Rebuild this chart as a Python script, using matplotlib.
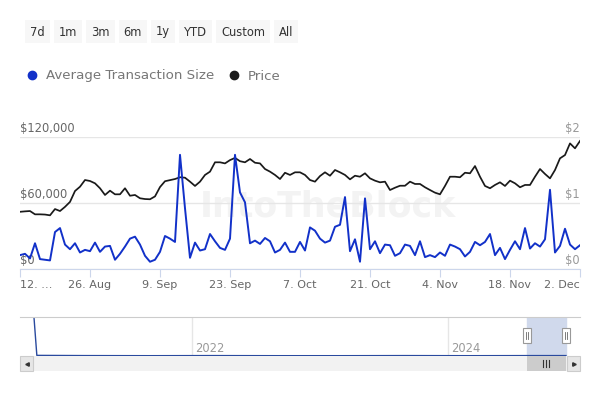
import numpy as np
import matplotlib
matplotlib.use('Agg')
import matplotlib.pyplot as plt
import matplotlib.dates as mdates
import matplotlib.transforms as mtransforms
from matplotlib.patches import Rectangle
from matplotlib.lines import Line2D

######################################################
####################### DATA #########################
######################################################

# one point per day, 12 Aug -> 2 Dec 2024
dates = np.arange(np.datetime64('2024-08-12'), np.datetime64('2024-12-03'))

# price, thousands of $
price_k = [52.0, 52.4, 52.7, 49.7, 49.7, 49.5, 48.8, 54.5, 52.7, 56.5,
           61.0, 70.9, 74.8, 80.9, 80.0, 77.9, 73.4, 67.3, 71.2, 67.9,
           67.9, 73.4, 66.6, 67.3, 64.3, 63.6, 63.4, 66.0, 74.5, 79.8,
           80.8, 81.8, 83.4, 83.0, 79.4, 75.5, 79.4, 85.5, 88.5, 97.0,
           97.0, 96.0, 99.0, 101.0, 98.0, 97.0, 100.0, 96.6, 96.0, 90.9,
           88.5, 85.5, 81.8, 87.5, 85.5, 87.9, 87.9, 85.5, 80.9, 79.4,
           84.5, 87.9, 84.8, 90.0, 87.9, 85.5, 81.5, 84.8, 83.9, 87.0,
           82.4, 80.3, 78.8, 79.4, 71.8, 73.9, 75.7, 75.7, 79.4, 77.3,
           77.3, 74.3, 71.8, 69.4, 67.9, 75.5, 83.9, 83.9, 83.4, 87.5,
           87.0, 93.6, 83.9, 75.5, 73.4, 76.4, 78.8, 75.5, 80.3, 77.9,
           74.3, 76.4, 76.4, 83.9, 90.9, 86.4, 82.4, 90.0, 100.6, 103.6,
           114.2, 109.7, 116.4]

# average transaction size, $
avg_tx_size = [0.21, 0.23, 0.16, 0.39, 0.15, 0.14, 0.13, 0.56, 0.62, 0.37,
               0.30, 0.39, 0.25, 0.29, 0.27, 0.40, 0.26, 0.34, 0.35, 0.14,
               0.23, 0.34, 0.46, 0.49, 0.37, 0.20, 0.11, 0.14, 0.26, 0.50,
               0.46, 0.41, 1.73, 0.92, 0.17, 0.40, 0.28, 0.30, 0.53, 0.42,
               0.32, 0.29, 0.46, 1.73, 1.16, 1.01, 0.39, 0.43, 0.38, 0.47,
               0.42, 0.25, 0.29, 0.40, 0.26, 0.26, 0.41, 0.28, 0.63, 0.58,
               0.46, 0.40, 0.43, 0.64, 0.67, 1.09, 0.27, 0.45, 0.11, 1.07,
               0.30, 0.42, 0.24, 0.37, 0.36, 0.20, 0.24, 0.37, 0.35, 0.21,
               0.42, 0.18, 0.21, 0.18, 0.25, 0.20, 0.37, 0.34, 0.30, 0.19,
               0.26, 0.41, 0.36, 0.41, 0.53, 0.21, 0.32, 0.15, 0.29, 0.42,
               0.30, 0.62, 0.31, 0.39, 0.34, 0.45, 1.20, 0.25, 0.35, 0.61,
               0.37, 0.30, 0.36]

price = np.array(price_k) * 1000

xtick_dates = np.arange(np.datetime64('2024-08-12'), np.datetime64('2024-12-03'), 14)
xtick_labels = ['12. \u2026', '26. Aug', '9. Sep', '23. Sep', '7. Oct', '21. Oct',
                '4. Nov', '18. Nov', '2. Dec']
left_ticks = [0, 60000, 120000]
left_labels = ['$0', '$60,000', '$120,000']
right_ticks = [0, 1, 2]
right_labels = ['$0', '$1', '$2']

buttons = ['7d', '1m', '3m', '6m', '1y', 'YTD', 'Custom', 'All']
series_names = ['Average Transaction Size', 'Price']
series_colors = ['#1231c9', '#1a1a1a']

# navigator (full history, mostly flat after the first spike)
nav_dates = np.array(['2020-10-08', '2020-10-16', '2021-03-01', '2021-09-01', '2022-03-01',
                      '2022-09-01', '2023-03-01', '2023-09-01', '2024-03-01', '2024-09-01',
                      '2024-12-02'], dtype='datetime64[D]')
nav_values = [36, 0.6, 0.4, 0.3, 0.4, 0.3, 0.3, 0.4, 0.3, 0.4, 0.4]
nav_years = ['2022', '2024']

######################################################
###################### PLOT ##########################
######################################################

W, H = 600, 400
fig = plt.figure(figsize=(6, 4), dpi=100)

# pixel overlay for the buttons / scrollbar / handles (on top of everything)
ui = fig.add_axes([0, 0, 1, 1])
ui.set_xlim(0, W)
ui.set_ylim(H, 0)
ui.axis('off')
ui.set_zorder(10)

# range selector buttons
renderer = fig.canvas.get_renderer()
x = 25
for b in buttons:
    t = ui.text(0, 32, b, fontsize=8.3, color='#333333', va='center', ha='center')
    tw = t.get_window_extent(renderer=renderer).width
    bw = tw + 10
    t.set_x(x + bw / 2)
    ui.add_patch(Rectangle((x, 20), bw, 23, facecolor='#f7f7f7', edgecolor='none'))
    x += bw + 4

# legend
handles = [Line2D([], [], marker='o', ls='', color=c, markersize=6) for c in series_colors]
fig.legend(handles, series_names, loc='center left', bbox_to_anchor=(25 / W, 1 - 76 / H),
           ncol=2, frameon=False, fontsize=9.6, labelcolor='#777777', handlelength=1.0,
           handletextpad=0.55, columnspacing=1.0, borderpad=0, borderaxespad=0)

# main chart
ax = fig.add_axes([20 / W, 1 - 269 / H, 560 / W, 132 / H])
ax.plot(dates, price, color=series_colors[1], lw=1.25, zorder=3)
ax.set_ylim(0, 120000)
ax.set_xlim(dates[0], dates[-1])
ax.set_yticks(left_ticks)
ax.set_yticklabels([])
ax.tick_params(axis='y', length=0)
ax.yaxis.grid(True, color='#e6e6e6', lw=1)
ax.set_axisbelow(True)
for s in ['top', 'left', 'right']:
    ax.spines[s].set_visible(False)
ax.spines['bottom'].set_color('#ccd6eb')
ax.set_xticks(xtick_dates)
ax.set_xticklabels(xtick_labels)
ax.tick_params(axis='x', length=6, color='#ccd6eb', labelcolor='#666666', labelsize=8, pad=2)
xl = ax.get_xticklabels()
xl[0].set_ha('left')
xl[-1].set_ha('right')

ltrans = mtransforms.offset_copy(mtransforms.blended_transform_factory(ax.transAxes, ax.transData),
                                 fig=fig, y=2, units='dots')
for v, lab in zip(left_ticks, left_labels):
    ax.text(0, v, lab, transform=ltrans, ha='left', va='bottom', fontsize=8.3, color='#666666')

# faint watermark
ax.text(0.55, 0.47, 'IntoTheBlock', transform=ax.transAxes, ha='center', va='center',
        fontsize=25, fontweight='bold', color='#f3f3f3', zorder=0)

ax2 = ax.twinx()
ax2.plot(dates, avg_tx_size, color=series_colors[0], lw=1.4)
ax2.set_ylim(0, 2)
ax2.set_yticks([])
for s in ax2.spines.values():
    s.set_visible(False)
rtrans = mtransforms.offset_copy(mtransforms.blended_transform_factory(ax2.transAxes, ax2.transData),
                                 fig=fig, y=2, units='dots')
for v, lab in zip(right_ticks, right_labels):
    ax2.text(1, v, lab, transform=rtrans, ha='right', va='bottom', fontsize=8.3, color='#999999')

# navigator
nav = fig.add_axes([20 / W, 1 - 356 / H, 560 / W, 39 / H])
nav.plot(nav_dates, nav_values, color='#2a4a9e', lw=1)
nav.set_xlim(np.datetime64('2020-08-29'), np.datetime64('2025-01-11'))
nav.set_ylim(0, 37)
nav.axvspan(dates[0], dates[-1], color='#d0d9ec', zorder=0)
for s in ['bottom', 'left', 'right']:
    nav.spines[s].set_visible(False)
nav.spines['top'].set_color('#cccccc')
year_dates = [np.datetime64(y + '-01-01') for y in nav_years]
nav.set_xticks(year_dates)
nav.set_xticklabels([])
nav.set_yticks([])
nav.tick_params(length=0)
nav.xaxis.grid(True, color='#e6e6e6', lw=1)
ntrans = mtransforms.offset_copy(mtransforms.blended_transform_factory(nav.transData, nav.transAxes),
                                 fig=fig, x=3, units='dots')
for d, y in zip(year_dates, nav_years):
    nav.text(d, 0.2, y, transform=ntrans, ha='left', va='center', fontsize=8.3, color='#999999')

# handles + scrollbar, placed from the navigator's own date scale
def nav_px(d):
    return nav.transData.transform((mdates.date2num(d), 0))[0]

sel0, sel1 = nav_px(dates[0]), nav_px(dates[-1])
for hx in [sel0, sel1]:
    ui.add_patch(Rectangle((hx - 4, 328), 8, 15, facecolor='white', edgecolor='#999999', lw=0.8, zorder=5))
    ui.plot([hx - 1, hx - 1], [332, 339], color='#666666', lw=0.6, zorder=6)
    ui.plot([hx + 1, hx + 1], [332, 339], color='#666666', lw=0.6, zorder=6)

ui.add_patch(Rectangle((20, 356), 560, 15, facecolor='#f2f2f2', edgecolor='none'))
ui.add_patch(Rectangle((sel0, 356), sel1 - sel0, 15, facecolor='#cccccc', edgecolor='none'))
for dx in [-3, 0, 3]:
    ui.plot([(sel0 + sel1) / 2 + dx] * 2, [360, 367], color='#333333', lw=0.8)
for bx, m in [(20, '<'), (567, '>')]:
    ui.add_patch(Rectangle((bx, 356), 13, 15, facecolor='#e6e6e6', edgecolor='#cccccc', lw=0.8))
    ui.plot([bx + 6.5], [363.5], marker=m, color='#333333', markersize=2.5)

plt.savefig('out.png', dpi=100)
